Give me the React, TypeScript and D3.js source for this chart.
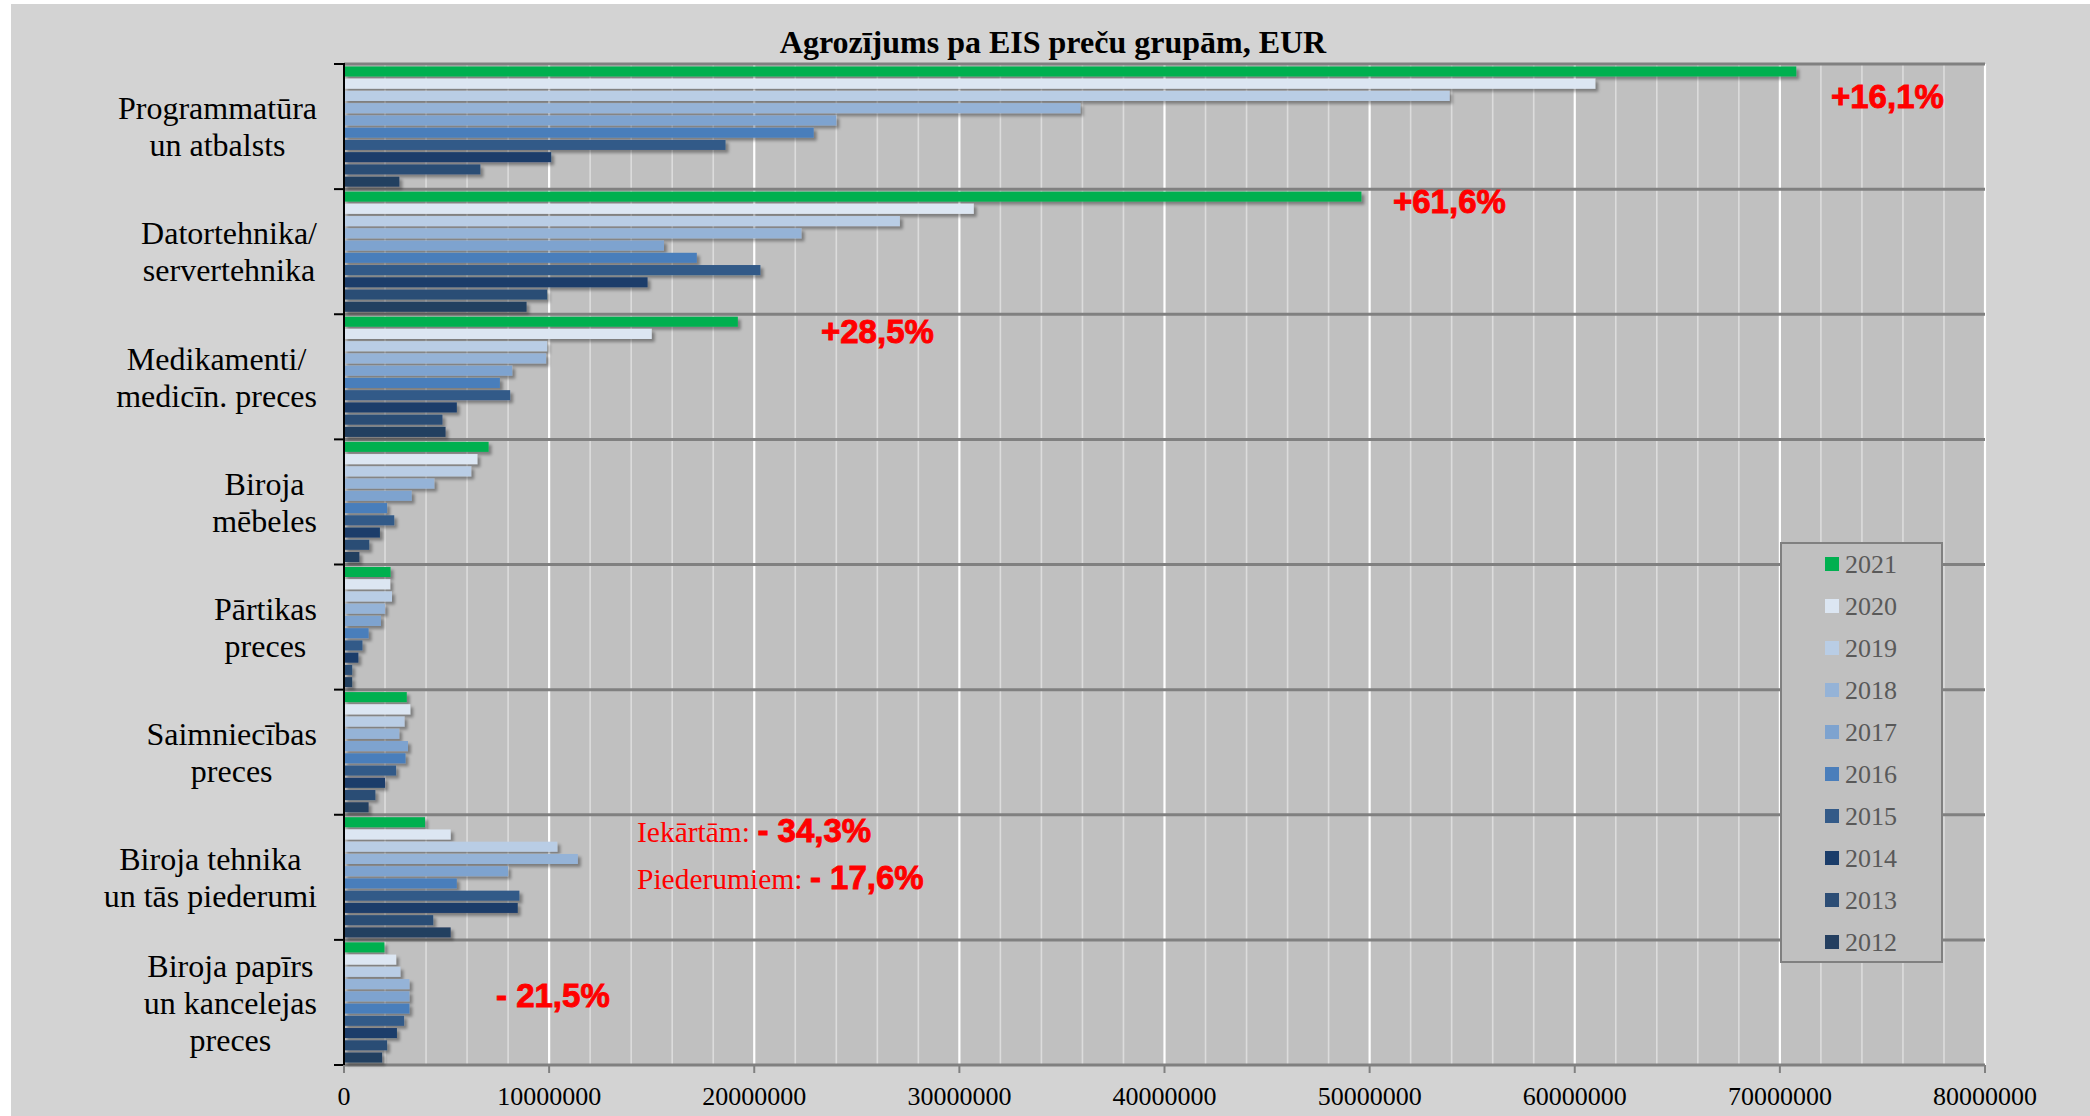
import React from 'react';
import * as d3 from 'd3';

// product groups (multi-line labels as in the original)
const categories = [
  ['Programmatūra', 'un atbalsts'],
  ['Datortehnika/', 'servertehnika'],
  ['Medikamenti/', 'medicīn. preces'],
  ['Biroja', 'mēbeles'],
  ['Pārtikas', 'preces'],
  ['Saimniecības', 'preces'],
  ['Biroja tehnika', 'un tās piederumi'],
  ['Biroja papīrs', 'un kancelejas', 'preces'],
];

const years = ['2021', '2020', '2019', '2018', '2017', '2016', '2015', '2014', '2013', '2012'];
const yearColors = ['#00B050', '#DCE6F2', '#B9CDE5', '#95B3D7', '#7EA3CF', '#4A7EBB', '#335A88', '#1B3D6A', '#2C4D75', '#243F60'];

// EUR, same order as categories
const v2021 = [70800000, 49600000, 19200000, 7050000, 2270000, 3060000, 3950000, 1970000];
const v2020 = [61000000, 30700000, 15000000, 6500000, 2250000, 3230000, 5200000, 2540000];
const v2019 = [53900000, 27100000, 9900000, 6200000, 2340000, 2950000, 10400000, 2750000];
const v2018 = [35900000, 22300000, 9850000, 4400000, 2000000, 2690000, 11400000, 3190000];
const v2017 = [24000000, 15600000, 8200000, 3300000, 1800000, 3120000, 8000000, 3190000];
const v2016 = [22900000, 17200000, 7600000, 2100000, 1200000, 3000000, 5500000, 3190000];
const v2015 = [18600000, 20300000, 8100000, 2450000, 900000, 2540000, 8550000, 2930000];
const v2014 = [10100000, 14800000, 5500000, 1750000, 700000, 2000000, 8470000, 2580000];
const v2013 = [6650000, 9900000, 4800000, 1230000, 400000, 1530000, 4350000, 2100000];
const v2012 = [2700000, 8900000, 4950000, 750000, 400000, 1200000, 5200000, 1860000];

const series = [v2021, v2020, v2019, v2018, v2017, v2016, v2015, v2014, v2013, v2012];

const xTicks = [0, 10000000, 20000000, 30000000, 40000000, 50000000, 60000000, 70000000, 80000000];

const W = 2090;
const H = 1116;
const M = { left: 344, right: 1985, top: 64, bottom: 1065 };

const serif = '"Liberation Serif", "Times New Roman", serif';
const sans = '"Liberation Sans", Arial, sans-serif';

let ctx: CanvasRenderingContext2D | null = null;
const textWidth = (s: string, font: string) => {
  if (!ctx) ctx = document.createElement('canvas').getContext('2d');
  if (!ctx) return s.length * 14;
  ctx.font = font;
  return ctx.measureText(s).width;
};

export default function App() {
  const x = d3.scaleLinear().domain([0, 80000000]).range([M.left, M.right]);
  const y = d3
    .scaleBand<number>()
    .domain(categories.map((_, i) => i))
    .range([M.top, M.bottom]);
  const inner = d3
    .scaleBand<string>()
    .domain(years)
    .range([0, y.bandwidth()])
    .paddingInner(0.18)
    .paddingOuter(0.2);

  const minor = d3.range(2000000, 80000001, 2000000).filter((d) => d % 10000000 !== 0);
  const boundaries = categories.map((_, i) => y(i)!).concat([M.bottom]);

  const labelFont = `32px ${serif}`;
  const labelRight = 317;
  const lineGap = 37;

  const red = '#FF0000';
  const bigRed = {
    fill: red,
    stroke: red,
    strokeWidth: 0.9,
    fontFamily: sans,
    fontWeight: 700,
    fontSize: 33,
  } as const;

  return (
    <div style={{ position: 'absolute', left: 0, top: 0 }}>
      <svg width={W} height={H} style={{ display: 'block' }}>
        <defs>
          <filter id="shadow" x="-5%" y="-50%" width="110%" height="250%">
            <feDropShadow dx="3" dy="3" stdDeviation="1.8" floodColor="#000" floodOpacity="0.35" />
          </filter>
        </defs>
        <rect width={W} height={H} fill="#fff" />
        <rect x={11} y={4} width={W - 11} height={H - 4} fill="#D3D3D3" />

        <text x={1053} y={53} textAnchor="middle" fontFamily={serif} fontWeight={700} fontSize={32} fill="#000">
          Agrozījums pa EIS preču grupām, EUR
        </text>

        {/* plot area */}
        <rect x={M.left} y={M.top} width={M.right - M.left} height={M.bottom - M.top} fill="#C0C0C0" />

        {minor.map((d) => (
          <line key={'m' + d} x1={x(d)} x2={x(d)} y1={M.top} y2={M.bottom} stroke="#DCDCDC" strokeWidth={1.6} />
        ))}
        {xTicks.slice(1).map((d) => (
          <line key={'g' + d} x1={x(d)} x2={x(d)} y1={M.top} y2={M.bottom} stroke="#FFFFFF" strokeWidth={2.2} />
        ))}

        {boundaries.map((b, i) => (
          <line key={'s' + i} x1={M.left} x2={M.right} y1={b} y2={b} stroke="#808080" strokeWidth={3} />
        ))}

        {/* bars */}
        <g filter="url(#shadow)">
          {categories.map((_, ci) =>
            series.map((vals, si) => (
              <rect
                key={ci + '-' + si}
                x={x(0)}
                y={y(ci)! + inner(years[si])!}
                width={x(vals[ci]) - x(0)}
                height={inner.bandwidth()}
                fill={yearColors[si]}
              />
            ))
          )}
        </g>

        {/* y axis */}
        <line x1={M.left} x2={M.left} y1={M.top - 1} y2={M.bottom + 1} stroke="#000" strokeWidth={2} />
        {boundaries.map((b, i) => (
          <line key={'t' + i} x1={M.left - 10} x2={M.left} y1={b} y2={b} stroke="#000" strokeWidth={2} />
        ))}

        {/* x axis ticks */}
        {xTicks.map((d) => (
          <g key={'x' + d}>
            <line x1={x(d)} x2={x(d)} y1={M.bottom} y2={M.bottom + 8} stroke="#808080" strokeWidth={2} />
            <text x={x(d)} y={1105} textAnchor="middle" fontFamily={serif} fontSize={26} fill="#000">
              {d3.format('d')(d)}
            </text>
          </g>
        ))}

        {/* category labels */}
        {categories.map((lines, ci) => {
          const maxW = d3.max(lines, (l) => textWidth(l, labelFont)) || 0;
          const cx = labelRight - maxW / 2;
          const cy = y(ci)! + y.bandwidth() / 2;
          return (
            <text key={'c' + ci} textAnchor="middle" fontFamily={serif} fontSize={32} fill="#000">
              {lines.map((l, li) => (
                <tspan key={li} x={cx} y={cy + (li - (lines.length - 1) / 2) * lineGap} dy="0.35em">
                  {l}
                </tspan>
              ))}
            </text>
          );
        })}

        {/* annotations */}
        <text x={1831} y={108} {...bigRed}>+16,1%</text>
        <text x={1393} y={213} {...bigRed}>+61,6%</text>
        <text x={821} y={343} {...bigRed}>+28,5%</text>
        <text x={637} y={842} fill={red} fontFamily={serif} fontSize={29.5}>
          Iekārtām: <tspan {...bigRed}>- 34,3%</tspan>
        </text>
        <text x={637} y={889} fill={red} fontFamily={serif} fontSize={29.5}>
          Piederumiem: <tspan {...bigRed}>- 17,6%</tspan>
        </text>
        <text x={496} y={1007} {...bigRed}>- 21,5%</text>

        {/* legend */}
        <rect x={1781} y={543} width={161} height={419} fill="#C0C0C0" stroke="#808080" strokeWidth={2} />
        {years.map((yr, i) => {
          const cy = 564 + i * 42;
          return (
            <g key={'l' + yr}>
              <rect x={1825} y={cy - 7} width={14} height={14} fill={yearColors[i]} />
              <text x={1845} y={cy} dy="0.35em" fontFamily={serif} fontSize={26} fill="#595959">
                {yr}
              </text>
            </g>
          );
        })}
      </svg>
    </div>
  );
}
